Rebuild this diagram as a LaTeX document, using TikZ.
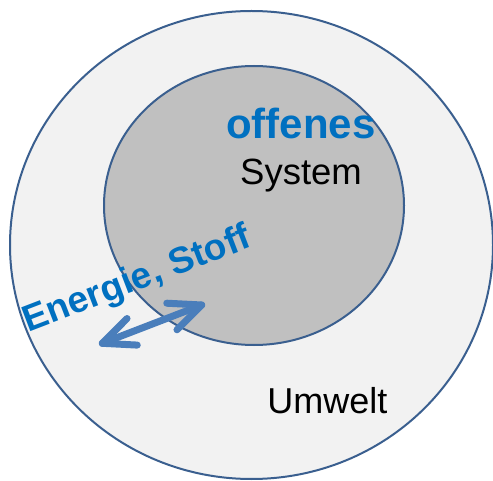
\documentclass[tikz,border=0pt]{standalone}
\usepackage{fontspec}
\setmainfont{Liberation Sans}
\usetikzlibrary{shapes.geometric,calc}
\definecolor{rimblue}{HTML}{3A5F8F}
\definecolor{outerfill}{HTML}{F2F2F2}
\definecolor{innerfill}{HTML}{C0C0C0}
\definecolor{textblue}{HTML}{0070C0}
\definecolor{arrowblue}{HTML}{4A7EBB}
\tikzset{
  rim/.style={ellipse, draw=rimblue, line width=2pt, inner sep=0pt, outer sep=0pt},
  lbl/.style={inner sep=0pt, outer sep=0pt},
  arrowline/.style={draw=arrowblue, line width=7pt, line cap=round, line join=round}
}
\begin{document}
\begin{tikzpicture}[x=1pt,y=1pt]
\useasboundingbox (0,0) rectangle (493,480);
\node[rim, fill=outerfill, minimum width=483pt, minimum height=468pt] (umwelt) at (251.5,235) {};
\node[rim, fill=innerfill, minimum width=300pt, minimum height=279pt] (system) at (254,274.5) {};
\node[lbl, anchor=base, text=textblue] (t1) at (301,341) {\fontsize{42}{46}\selectfont\bfseries offenes};
\node[lbl, anchor=base] (t2) at (301,295) {\fontsize{36.5}{40}\selectfont System};
\node[lbl, anchor=base] (t3) at (327.5,67) {\fontsize{36}{40}\selectfont Umwelt};
\node[lbl, anchor=base west, rotate=21, text=textblue] (t4) at (28.5,147.5) {\fontsize{37}{40}\selectfont\bfseries Energie, Stoff};
\coordinate (L) at (102.3,136.7);
\coordinate (R) at (201.7,175);
\draw[arrowline] (L) -- (R);
\draw[arrowline] ($(R)!35pt!24:(L)$) -- (R) -- ($(R)!35pt!-24:(L)$);
\draw[arrowline] ($(L)!35pt!24:(R)$) -- (L) -- ($(L)!35pt!-24:(R)$);
\end{tikzpicture}
\end{document}
